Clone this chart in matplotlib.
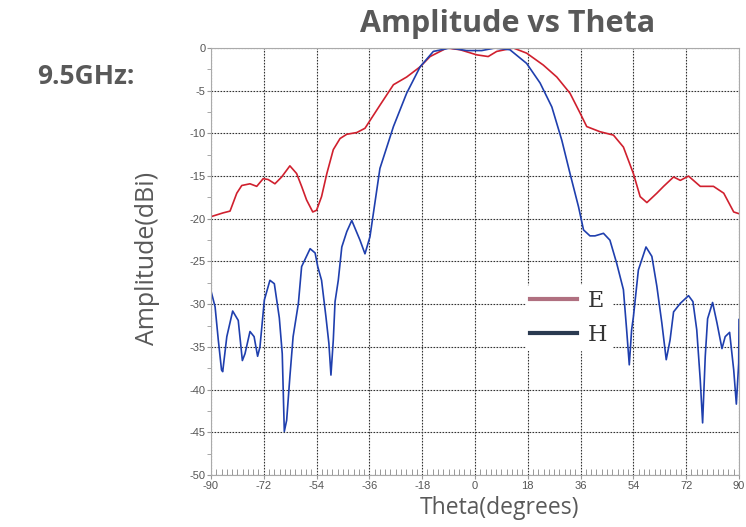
import numpy as np
import matplotlib.pyplot as plt
from matplotlib.ticker import MultipleLocator
from matplotlib.lines import Line2D

plt.rcParams['axes.unicode_minus'] = False

# E-plane (red)
e_theta = [-90, -85.8, -83.5, -81.2, -79.5, -76.7, -74.4, -72.2, -70.5, -68.2, -65.9,
           -63.1, -60.8, -59.1, -57.4, -55.3, -54.0, -52.3, -50.5, -48.3, -46.0, -43.7,
           -40.3, -37.5, -35.8, -32.4, -27.8, -23.3, -18.7, -15.3, -9.6, -5.1, 0.6, 4.5,
           7.4, 13.1, 17.6, 23.3, 27.9, 32.4, 35.8, 38.1, 42.6, 47.2, 50.6, 54.0, 56.3,
           58.6, 62.0, 64.3, 67.7, 70.0, 72.8, 76.8, 81.3, 84.8, 88.2, 90]
e_amp = [-19.75, -19.3, -19.1, -17.0, -16.1, -15.9, -16.2, -15.3, -15.4, -15.9, -15.1,
         -13.8, -14.7, -16.2, -17.8, -19.2, -19.0, -17.4, -14.7, -11.9, -10.6, -10.1,
         -9.9, -9.4, -8.5, -6.7, -4.3, -3.4, -2.2, -1.0, 0.0, -0.2, -0.8, -1.0,
         -0.4, 0.0, -0.6, -2.0, -3.4, -5.3, -7.6, -9.2, -9.8, -10.2, -11.6, -14.7, -17.4,
         -18.1, -17.0, -16.2, -15.1, -15.5, -15.0, -16.2, -16.2, -17.0, -19.2, -19.4]

# H-plane (blue)
h_theta = [-89.8, -88.6, -87.5, -86.4, -86.0, -84.6, -82.6, -80.7, -79.3, -78.4, -76.7,
           -75.3, -74.1, -73.3, -71.8, -69.9, -68.4, -66.7, -65.7, -65.0, -64.2, -63.1,
           -62.0, -60.2, -59.1, -56.2, -54.5, -53.6, -52.3, -50.8, -49.8, -49.1, -48.3,
           -47.7, -46.6, -45.4, -43.7, -42.0, -39.2, -37.5, -35.8, -32.4, -27.8, -23.3,
           -18.7, -14.2, -8.5, -2.8, 2.3, 6.8, 11.9, 17.6, 22.2, 26.2, 29.6, 32.4, 35.3,
           37.0, 39.2, 40.9, 43.8, 46.0, 48.3, 50.6, 51.7, 52.6, 53.4, 54.0, 55.7, 58.3,
           60.3, 62.0, 63.7, 65.2, 66.5, 67.7, 70.0, 72.8, 74.3, 75.6, 76.8, 77.6, 78.5,
           79.3, 81.0, 82.5, 84.2, 85.3, 86.8, 88.2, 89.1, 89.9, 90]
h_amp = [-28.7, -30.3, -34.2, -37.7, -37.9, -33.8, -30.8, -31.9, -36.6, -35.8, -33.2,
         -33.8, -36.1, -35.0, -29.5, -27.2, -27.6, -31.6, -35.8, -44.9, -43.6, -38.5,
         -33.8, -29.9, -25.6, -23.5, -24.0, -25.6, -27.2, -31.5, -34.6, -38.3, -34.2,
         -29.7, -27.2, -23.3, -21.5, -20.2, -22.5, -24.1, -22.1, -14.1, -9.2, -5.3,
         -2.2, -0.4, 0.0, -0.3, -0.3, 0.0, -0.2, -1.8, -4.1, -6.9, -10.8, -14.7, -18.6,
         -21.3, -22.0, -22.0, -21.7, -22.5, -25.2, -28.3, -33.0, -37.1, -33.0, -31.5, -26.0, -23.3,
         -24.4, -27.9, -32.2, -36.5, -34.2, -30.9, -29.9, -29.0, -29.7, -33.0, -38.9, -43.9, -36.1,
         -31.7, -29.8, -32.2, -35.2, -33.8, -33.3, -37.7, -41.7, -36.9, -31.8]

x_ticks = [-90, -72, -54, -36, -18, 0, 18, 36, 54, 72, 90]
y_ticks = [0, -5, -10, -15, -20, -25, -30, -35, -40, -45, -50]

gray = '#595959'
fig = plt.figure(figsize=(7.46, 5.27), dpi=100)
ax = fig.add_axes([0.2828, 0.0987, 0.7078, 0.8102])

ax.plot(e_theta, e_amp, color='#d0202e', lw=1.2)
ax.plot(h_theta, h_amp, color='#1f3fae', lw=1.2)

ax.set_xlim(-90, 90)
ax.set_ylim(-50, 0)
ax.set_xticks(x_ticks)
ax.set_yticks(y_ticks)
ax.xaxis.set_minor_locator(MultipleLocator(1.8))
ax.yaxis.set_minor_locator(MultipleLocator(2.5))
ax.tick_params(axis='both', which='major', labelsize=8, labelcolor='#555555',
               color='#999999', length=3, pad=1)
ax.tick_params(axis='x', which='minor', direction='in', length=4, color='#888888')
ax.tick_params(axis='y', which='minor', direction='out', length=3, color='#999999')
for lab in ax.get_xticklabels() + ax.get_yticklabels():
    lab.set_family('Liberation Sans')
ax.grid(True, which='major', color='#333333', linestyle=(0, (1.5, 1.2)), lw=0.8)
for s in ax.spines.values():
    s.set_color('#aaaaaa')
    s.set_linewidth(0.8)

fig.text(0.681, 0.955, 'Amplitude vs Theta', fontsize=22, fontweight='bold',
         color=gray, ha='center', va='center', family='Open Sans')
fig.text(0.05, 0.855, '9.5GHz:', fontsize=19, fontweight='bold',
         color=gray, ha='left', va='center', family='Open Sans')
fig.text(0.198, 0.51, 'Amplitude(dBi)', fontsize=18, rotation=90,
         color=gray, ha='center', va='center', family='Open Sans')
fig.text(0.67, 0.036, 'Theta(degrees)', fontsize=16.5,
         color=gray, ha='center', va='center', family='Open Sans')

# legend drawn as in the original (no frame, serif labels)
handles = [Line2D([], [], color='#b07080', lw=3), Line2D([], [], color='#2a3a50', lw=3)]
leg = ax.legend(handles, ['E', 'H'], loc='center left', bbox_to_anchor=(0.575, 0.368),
                frameon=True, framealpha=1, edgecolor='white', facecolor='white',
                prop={'family': 'DejaVu Serif', 'size': 16}, handlelength=2.1,
                labelspacing=0.55, borderpad=0.2, handletextpad=0.5)
for t in leg.get_texts():
    t.set_color('#333333')

fig.savefig('out.png', dpi=100)
